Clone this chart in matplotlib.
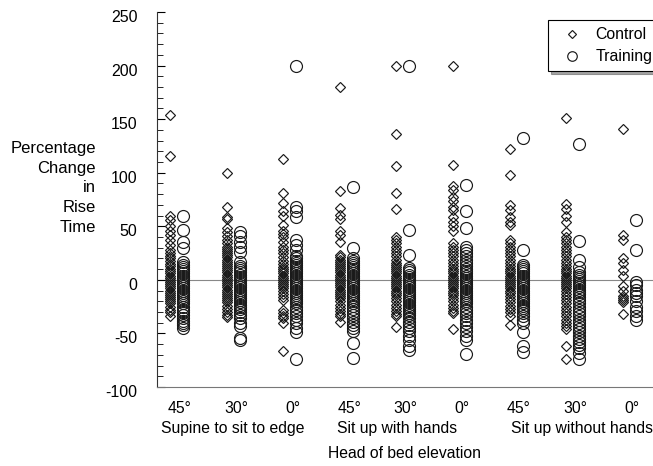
import matplotlib
matplotlib.use("Agg")
import matplotlib.pyplot as plt
import matplotlib.transforms as mtransforms
import numpy as np
from matplotlib.ticker import MultipleLocator

plt.rcParams['font.family'] = ['Liberation Sans', 'DejaVu Sans']
plt.rcParams['axes.unicode_minus'] = False

elevations = ["45°", "30°", "0°", "45°", "30°", "0°", "45°", "30°", "0°"]
groups = ["Supine to sit to edge", "Sit up with hands", "Sit up without hands"]

control = [
    [154, 116, 60, 56, 50, 46, 42, 37, 33, 28, 25, 22, 20, 18, 15, 13, 10, 8, 6, 4, 2, 0, -2, -4, -6, -8, -10, -12, -14, -16, -18, -20, -22, -25, -28, -30, -34],
    [100, 68, 59, 57, 48, 45, 41, 37, 34, 31, 29, 27, 25, 23, 21, 19, 17, 15, 13, 11, 9, 7, 5, 3, 1, -1, -3, -5, -7, -9, -11, -13, -15, -17, -19, -21, -24, -27, -30, -33, -35],
    [113, 81, 72, 64, 60, 51, 46, 43, 40, 35, 31, 28, 25, 21, 18, 15, 12, 10, 8, 6, 4, 2, 0, -2, -4, -6, -8, -10, -13, -16, -19, -28, -31, -34, -36, -40, -66],
    [180, 83, 67, 61, 57, 46, 42, 35, 23, 21, 19, 17, 15, 13, 11, 9, 7, 5, 3, 1, -1, -3, -5, -7, -9, -11, -13, -15, -17, -20, -23, -26, -29, -32, -34, -39],
    [200, 136, 106, 81, 66, 40, 37, 34, 31, 28, 25, 22, 19, 16, 14, 12, 10, 8, 6, 4, 2, 0, -2, -4, -6, -8, -10, -12, -14, -17, -20, -23, -26, -29, -32, -34, -44],
    [200, 107, 88, 84, 77, 74, 68, 65, 59, 54, 50, 46, 34, 31, 28, 25, 22, 19, 16, 13, 10, 8, 6, 4, 2, 0, -2, -4, -6, -8, -10, -12, -14, -17, -20, -23, -26, -29, -31, -46],
    [122, 98, 70, 65, 59, 54, 51, 37, 34, 31, 28, 25, 22, 19, 16, 13, 10, 8, 6, 4, 2, 0, -2, -4, -6, -8, -10, -12, -15, -18, -21, -24, -27, -30, -34, -42],
    [151, 71, 66, 60, 54, 45, 40, 37, 34, 31, 28, 25, 22, 19, 16, 13, 10, 8, 6, 4, 2, 0, -2, -4, -6, -8, -10, -13, -16, -19, -22, -25, -28, -31, -34, -37, -40, -43, -46, -62, -74],
    [141, 42, 37, 20, 16, 9, 4, -6, -10, -15, -17, -19, -21, -32],
]

training = [
    [60, 47, 35, 30, 17, 14, 12, 10, 8, 6, 4, 2, 0, -2, -4, -6, -8, -10, -12, -14, -16, -18, -20, -22, -25, -28, -30, -33, -36, -38, -40, -42, -45],
    [45, 41, 35, 31, 26, 17, 13, 11, 9, 7, 5, 3, 1, -1, -3, -5, -7, -9, -11, -13, -15, -17, -19, -21, -23, -25, -27, -30, -33, -36, -40, -43, -54, -56],
    [200, 68, 64, 59, 37, 33, 28, 22, 20, 18, 16, 14, 12, 10, 8, 6, 4, 2, 0, -2, -4, -6, -8, -10, -12, -14, -16, -18, -20, -22, -25, -28, -31, -34, -37, -40, -45, -49, -74],
    [87, 30, 20, 18, 16, 14, 12, 10, 8, 6, 4, 2, 0, -2, -4, -6, -8, -10, -12, -14, -16, -18, -20, -22, -24, -27, -30, -33, -36, -39, -42, -45, -48, -59, -73],
    [200, 47, 23, 11, 9, 7, 5, 3, 1, -1, -3, -5, -7, -9, -11, -13, -15, -17, -19, -21, -23, -25, -27, -29, -31, -33, -36, -39, -42, -45, -48, -52, -56, -62, -65],
    [89, 64, 48, 31, 28, 25, 22, 19, 16, 13, 10, 8, 6, 4, 2, 0, -2, -4, -6, -8, -10, -12, -14, -16, -18, -20, -22, -25, -28, -31, -34, -37, -40, -44, -48, -52, -56, -69],
    [132, 28, 14, 12, 10, 8, 6, 4, 2, 0, -2, -4, -6, -8, -10, -12, -14, -16, -18, -20, -22, -24, -26, -28, -31, -34, -37, -40, -49, -62, -67],
    [127, 36, 19, 12, 7, 5, 3, 1, -1, -3, -5, -7, -9, -11, -13, -16, -19, -22, -25, -28, -31, -34, -37, -40, -43, -46, -49, -52, -55, -58, -61, -64, -68, -74],
    [56, 28, -2, -5, -9, -12, -15, -20, -25, -29, -34, -37],
]

W, H = 653, 466
fig = plt.figure(figsize=(W / 100, H / 100), dpi=100)
ax = fig.add_axes([157 / W, 1 - 387 / H, (W - 157) / W, (387 - 12) / H])

off = 0.115
for i in range(len(elevations)):
    ax.plot([i - off] * len(control[i]), control[i], linestyle='none', marker='D',
            ms=5.4, mfc='none', mec='#1a1a1a', mew=0.85,
            label='Control' if i == 0 else None)
    ax.plot([i + off] * len(training[i]), training[i], linestyle='none', marker='o',
            ms=8.6, mfc='none', mec='#1a1a1a', mew=0.85,
            label='Training' if i == 0 else None)

ax.axhline(0, color='#888888', lw=0.8, zorder=0)

ax.set_xlim(-0.345, 8.42)
ax.set_ylim(-100, 250)
ax.yaxis.set_major_locator(MultipleLocator(50))
ax.yaxis.set_minor_locator(MultipleLocator(10))
ax.tick_params(axis='y', which='both', direction='in', labelsize=11.5, pad=14)
ax.tick_params(axis='y', which='major', length=6)
ax.tick_params(axis='y', which='minor', length=4)
shift = mtransforms.ScaledTranslation(0, -4 / 100, fig.dpi_scale_trans)
for lab in ax.get_yticklabels():
    lab.set_transform(lab.get_transform() + shift)

ax.set_xticks(np.arange(len(elevations)) + 0.05)
ax.set_xticklabels(elevations, fontsize=11.3)
ax.tick_params(axis='x', length=0, pad=10)

ax.spines['top'].set_visible(False)
ax.spines['right'].set_visible(False)
ax.spines['left'].set_color('#333333')
ax.spines['bottom'].set_color('#777777')

# group labels
group_x = [233, 397, 582]
for gx, g in zip(group_x, groups):
    fig.text(gx / W, 1 - 428 / H, g, ha='center', va='center', fontsize=11.3)
fig.text(405 / W, 1 - 453 / H, "Head of bed elevation", ha='center', va='center', fontsize=11.3)

ylines = ["Percentage", "Change", "in", "Rise", "Time"]
for k, t in enumerate(ylines):
    fig.text(96 / W, 1 - (148 + 20 * k) / H, t, ha='right', va='center', fontsize=12)

leg = fig.legend(loc='upper left', bbox_to_anchor=(548 / W, 1 - 20 / H),
                 frameon=True, fancybox=False, shadow=True, fontsize=11.4,
                 handletextpad=0.4, borderpad=0.45, labelspacing=0.45,
                 handlelength=2.15, markerscale=0.8, borderaxespad=0)
leg.get_frame().set_edgecolor('black')
leg.get_frame().set_linewidth(0.8)

fig.savefig("out.png", dpi=100)
